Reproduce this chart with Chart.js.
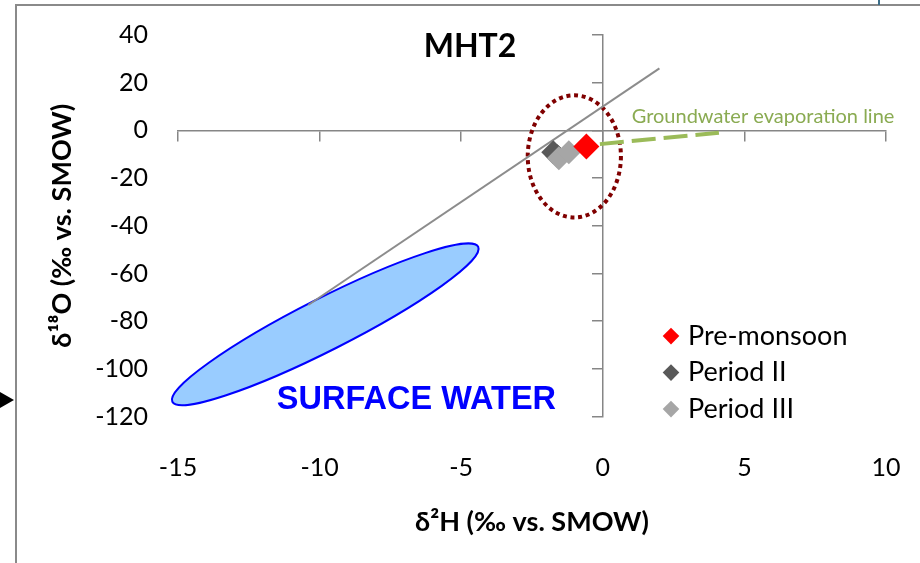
<!DOCTYPE html>
<html>
<head>
<meta charset="utf-8">
<title>MHT2</title>
<script src="https://cdn.jsdelivr.net/npm/chart.js@4.4.1/dist/chart.umd.min.js"></script>
<style>
    html, body { margin: 0; padding: 0; background: #fff; overflow: hidden; }
    #wrap { position: relative; width: 920px; height: 563px; overflow: hidden; }
    #frame { position: absolute; left: 15px; top: 4px; width: 1000px; height: 1000px;
        border-left: 2px solid #8a8a8a; border-top: 2px solid #8a8a8a; }
    #mark { position: absolute; left: 878px; top: 0; width: 2px; height: 5px; background: #3d6f8a; }
    #arrow { position: absolute; left: 0; top: 392px; width: 0; height: 0;
        border-left: 14px solid #000; border-top: 8px solid transparent; border-bottom: 8px solid transparent; }
    #chart { position: absolute; left: 0; top: 0; }
</style>
</head>
<body>
<div id="wrap">
    <div id="frame"></div>
    <div id="mark"></div>
    <div id="arrow"></div>
    <canvas id="chart" width="920" height="563"></canvas>
</div>
<script>
// sample points
const preMonsoonX = [-0.58];
const preMonsoonY = [-6.7];
const period2X = [-1.75, -1.6];
const period2Y = [-9.2, -10.8];
const period3X = [-1.55, -1.2];
const period3Y = [-11.7, -9.2];

// reference lines
const gmwlX = [-10.4, 2];
const gmwlY = [-73.2, 26];
const evapX = [-0.5, 4.1];
const evapY = [-6.2, -1.0];

// axes
const xTicks = [-15, -10, -5, 0, 5, 10];
const yTicks = [-120, -100, -80, -60, -40, -20, 0, 20, 40];

const seriesNames = ["Pre-monsoon", "Period II", "Period III"];
const xTitle = "δ²H (‰ vs. SMOW)";
const yTitle = "δ¹⁸O (‰ vs. SMOW)";
const chartTitle = "MHT2";
const evapLabel = "Groundwater evaporation line";
const surfaceLabel = "SURFACE WATER";

// shapes drawn on top, in data units
const surfaceWater = { fromX: -15.2, fromY: -113.8, toX: -4.4, toY: -48.8 };
const sampleCircle = { xMin: -2.65, xMax: 0.64, yMin: -36.5, yMax: 14.7 };

function points(xs, ys) {
    return xs.map((x, i) => ({ x: x, y: ys[i] }));
}

const FONT = "Lato, 'Open Sans', sans-serif";

const overlay = {
    id: "overlay",
    beforeDatasetsDraw(chart) {
        const ctx = chart.ctx;
        const x = chart.scales.x;
        const y = chart.scales.y;

        // surface water ellipse
        const x1 = x.getPixelForValue(surfaceWater.fromX);
        const y1 = y.getPixelForValue(surfaceWater.fromY);
        const x2 = x.getPixelForValue(surfaceWater.toX);
        const y2 = y.getPixelForValue(surfaceWater.toY);
        const len = Math.hypot(x2 - x1, y2 - y1) / 2;
        ctx.save();
        ctx.beginPath();
        ctx.ellipse((x1 + x2) / 2, (y1 + y2) / 2, len, 26, Math.atan2(y2 - y1, x2 - x1), 0, Math.PI * 2);
        ctx.fillStyle = "#99ccff";
        ctx.fill();
        ctx.lineWidth = 2;
        ctx.strokeStyle = "#0000ff";
        ctx.stroke();
        ctx.restore();

        // dotted circle round the samples
        const cl = x.getPixelForValue(sampleCircle.xMin);
        const cr = x.getPixelForValue(sampleCircle.xMax);
        const ct = y.getPixelForValue(sampleCircle.yMax);
        const cb = y.getPixelForValue(sampleCircle.yMin);
        ctx.save();
        ctx.beginPath();
        ctx.ellipse((cl + cr) / 2, (ct + cb) / 2, (cr - cl) / 2, (cb - ct) / 2, 0, 0, Math.PI * 2);
        ctx.setLineDash([4, 3.7]);
        ctx.lineWidth = 4;
        ctx.strokeStyle = "#800000";
        ctx.stroke();
        ctx.restore();
    },
    afterDatasetsDraw(chart) {
        const ctx = chart.ctx;
        const x = chart.scales.x;
        const y = chart.scales.y;
        const area = chart.chartArea;

        ctx.save();
        ctx.textBaseline = "alphabetic";

        ctx.font = "bold 32px " + FONT;
        ctx.fillStyle = "#000";
        ctx.textAlign = "center";
        ctx.fillText(chartTitle, x.getPixelForValue(-4.69), y.getPixelForValue(30.6));

        ctx.textAlign = "left";
        ctx.font = "20px " + FONT;
        ctx.fillStyle = "#8aab52";
        ctx.fillText(evapLabel, x.getPixelForValue(1.02), y.getPixelForValue(2.9));

        ctx.font = "bold 32.5px 'Liberation Sans', Arial, sans-serif";
        ctx.fillStyle = "#0000ff";
        ctx.fillText(surfaceLabel, x.getPixelForValue(-11.51), y.getPixelForValue(-117));

        // legend
        const lx = area.right - 215;
        let ly = area.bottom - 72;
        ctx.font = "27px " + FONT;
        chart.data.datasets.slice(0, 3).forEach(ds => {
            const r = 8.3;
            const my = ly - 8.5;
            ctx.beginPath();
            ctx.moveTo(lx, my - r);
            ctx.lineTo(lx + r, my);
            ctx.lineTo(lx, my + r);
            ctx.lineTo(lx - r, my);
            ctx.closePath();
            ctx.fillStyle = ds.backgroundColor;
            ctx.fill();
            ctx.fillStyle = "#000";
            ctx.fillText(ds.label, lx + 17, ly);
            ly += 36.5;
        });
        ctx.restore();
    }
};

const tickFont = { family: FONT, size: 25 };
const titleFont = { family: FONT, size: 27, weight: "bold" };

new Chart(document.getElementById("chart"), {
    type: "scatter",
    data: {
        datasets: [
            { label: seriesNames[0], data: points(preMonsoonX, preMonsoonY), order: 1,
              backgroundColor: "#ff0000", borderColor: "#ff0000", pointStyle: "rectRot", pointRadius: 13, borderWidth: 0 },
            { label: seriesNames[1], data: points(period2X, period2Y), order: 3,
              backgroundColor: "#595959", borderColor: "#595959", pointStyle: "rectRot", pointRadius: 12, borderWidth: 0 },
            { label: seriesNames[2], data: points(period3X, period3Y), order: 2,
              backgroundColor: "#a6a6a6", borderColor: "#a6a6a6", pointStyle: "rectRot", pointRadius: 12, borderWidth: 0 },
            { label: "evaporation", data: points(evapX, evapY), order: 4, showLine: true,
              borderColor: "#9bbb59", borderWidth: 4, borderDash: [24, 8], borderDashOffset: 20.7, pointRadius: 0 },
            { label: "GMWL", data: points(gmwlX, gmwlY), order: 5, showLine: true,
              borderColor: "#8c8c8c", borderWidth: 2, pointRadius: 0 }
        ]
    },
    options: {
        responsive: false,
        animation: false,
        devicePixelRatio: 1,
        layout: { padding: { left: 45.8, top: 35, right: 34, bottom: 25 } },
        plugins: {
            legend: { display: false },
            tooltip: { enabled: false },
            title: { display: false }
        },
        scales: {
            x: {
                type: "linear", position: "bottom", min: -15, max: 10,
                afterBuildTicks: s => { s.ticks = xTicks.map(v => ({ value: v })); },
                ticks: { font: tickFont, color: "#000", padding: 3 },
                grid: { display: false, drawTicks: true, tickLength: 33 },
                border: { display: false },
                title: { display: true, text: xTitle, font: titleFont, color: "#000", padding: { top: 20, bottom: 0 } }
            },
            y: {
                type: "linear", position: "left", min: -120, max: 40,
                afterBuildTicks: s => { s.ticks = yTicks.map(v => ({ value: v })); },
                ticks: { font: tickFont, color: "#000", padding: 3 },
                grid: { display: false, drawTicks: true, tickLength: 27 },
                border: { display: false },
                title: { display: true, text: yTitle, font: titleFont, color: "#000", padding: { top: 0, bottom: 14 } }
            },
            xZero: {
                type: "linear", axis: "x", position: { y: 0 }, min: -15, max: 10,
                afterBuildTicks: s => { s.ticks = xTicks.map(v => ({ value: v })); },
                ticks: { display: false },
                grid: { drawOnChartArea: false, drawTicks: true, tickLength: 10, color: "#868686", lineWidth: 1.5 },
                border: { display: true, color: "#868686", width: 1.5 }
            },
            yZero: {
                type: "linear", axis: "y", position: { x: 0 }, min: -120, max: 40,
                afterBuildTicks: s => { s.ticks = yTicks.map(v => ({ value: v })); },
                ticks: { display: false },
                grid: { drawOnChartArea: false, drawTicks: true, tickLength: 10, color: "#868686", lineWidth: 1.5 },
                border: { display: true, color: "#868686", width: 1.5 }
            }
        }
    },
    plugins: [overlay]
});
</script>
</body>
</html>
